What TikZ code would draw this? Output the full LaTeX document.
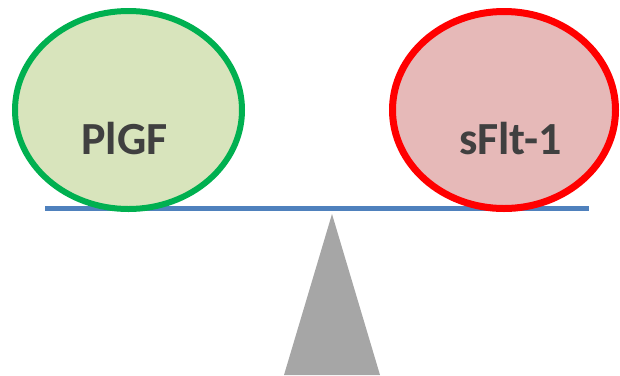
\documentclass[tikz,border=0pt]{standalone}
\usepackage{fontspec}
\setmainfont{Carlito}
\usetikzlibrary{shapes.geometric}
\definecolor{ringgreen}{HTML}{00B050}
\definecolor{fillgreen}{HTML}{D8E4BC}
\definecolor{ringred}{HTML}{FF0000}
\definecolor{fillred}{HTML}{E6B9B8}
\definecolor{beamblue}{HTML}{4F81BD}
\definecolor{pivotgray}{HTML}{A6A6A6}
\definecolor{labelgray}{HTML}{404040}
\tikzset{
  weight/.style={ellipse, inner sep=0pt, outer sep=0pt},
  weightlabel/.style={anchor=base, inner sep=0pt, text=labelgray,
    font=\fontsize{46bp}{50bp}\selectfont\bfseries},
  beam/.style={draw=beamblue, line width=5bp},
}
\begin{document}
\begin{tikzpicture}[x=1bp, y=-1bp]
  \useasboundingbox (0,0) rectangle (620,375);
  % fulcrum
  \coordinate (apex) at (332,214);
  \coordinate (baseL) at (284,375);
  \coordinate (baseR) at (380,375);
  \fill[pivotgray] (apex) -- (baseR) -- (baseL) -- cycle;
  % beam
  \coordinate (beamL) at (45,208);
  \coordinate (beamR) at (589,208);
  \draw[beam] (beamL) -- (beamR);
  % weights on the beam
  \node[weight, draw=ringgreen, fill=fillgreen, line width=6bp,
        minimum width=227bp, minimum height=198bp] (plgf) at (128.5,110) {};
  \node[weight, draw=ringred, fill=fillred, line width=7bp,
        minimum width=223bp, minimum height=197bp] (sflt) at (504,110) {};
  \node[weightlabel] (plgfText) at (124.5,154) {PlGF};
  \node[weightlabel] (sfltText) at (510.5,154) {sFlt-1};
\end{tikzpicture}
\end{document}
